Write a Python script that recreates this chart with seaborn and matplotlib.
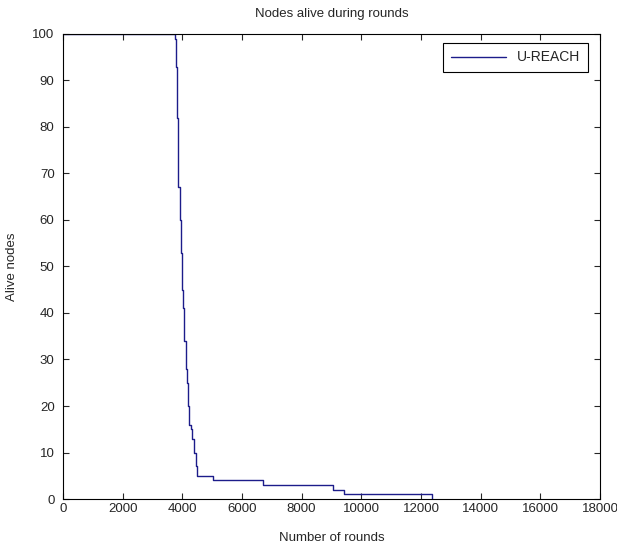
import matplotlib
matplotlib.use("Agg")
import matplotlib.pyplot as plt
import seaborn as sns
import pandas as pd

# step points: round at which the alive count changes
rounds = [0, 3740, 3777, 3810, 3866, 3911, 3944, 3989, 4000, 4034, 4067, 4112,
          4157, 4190, 4235, 4291, 4335, 4391, 4447, 4503, 5030, 6715, 9061,
          9430, 12380]
alive = [100, 99, 93, 82, 67, 60, 53, 51, 45, 41, 34, 28,
         25, 20, 16, 15, 13, 10, 7, 5, 4, 3, 2,
         1, 0]
series_name = "U-REACH"

x_ticks = list(range(0, 18001, 2000))
y_ticks = list(range(0, 101, 10))

sns.set_style("ticks")
plt.rcParams['font.family'] = ['Liberation Sans', 'DejaVu Sans']
plt.rcParams['xtick.direction'] = 'in'
plt.rcParams['ytick.direction'] = 'in'

df = pd.DataFrame({'round': rounds, 'alive': alive, 'protocol': series_name})

fig = plt.figure(figsize=(6.17, 5.48), dpi=100)
ax = fig.add_axes([0.102, 0.0894, 0.8704, 0.8486])

sns.lineplot(data=df, x='round', y='alive', label=series_name, ax=ax,
             drawstyle='steps-post', color='#1c1c8a', linewidth=1.0,
             estimator=None, sort=False)

ax.set_xlim(0, 18000)
ax.set_ylim(0, 100)
ax.set_xticks(x_ticks)
ax.set_yticks(y_ticks)
ax.tick_params(axis='both', labelsize=9.5, length=4, width=0.8,
               top=True, right=True)
ax.tick_params(axis='x', pad=3)
ax.tick_params(axis='y', pad=6)
for sp in ax.spines.values():
    sp.set_visible(True)
    sp.set_linewidth(0.8)
    sp.set_color('black')

ax.set_xlabel('Number of rounds', fontsize=9.5, labelpad=12)
ax.set_ylabel('Alive nodes', fontsize=9.5, labelpad=10)
ax.set_title('Nodes alive during rounds', fontsize=9.5, pad=12)

leg = ax.legend(loc='upper right', fontsize=10, fancybox=False, framealpha=1,
                edgecolor='black', handlelength=4.0, borderpad=0.55,
                borderaxespad=0, bbox_to_anchor=(0.978, 0.981))
leg.get_frame().set_linewidth(0.8)

fig.savefig('out.png', dpi=100)
